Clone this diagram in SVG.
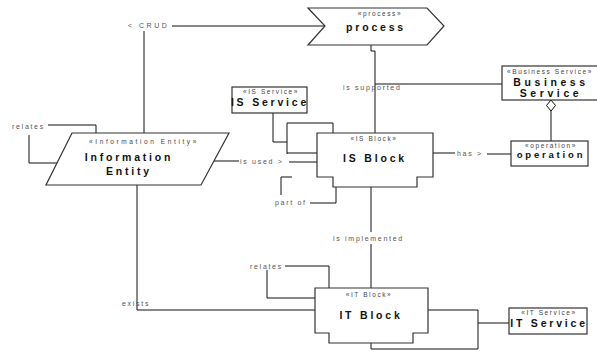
<svg xmlns="http://www.w3.org/2000/svg" width="597" height="354" viewBox="0 0 597 354">
<style>
.shape{fill:#fff;stroke:#333;stroke-width:1.2}
.ln{fill:none;stroke:#111;stroke-width:1}
.lbl{font-family:"Liberation Sans",Arial,sans-serif;font-size:7px;letter-spacing:1.7px;fill:#555}
.st{font-family:"Liberation Sans",Arial,sans-serif;font-size:6.5px;letter-spacing:1.6px;fill:#444;text-anchor:middle}
.nm{font-family:"Liberation Sans",Arial,sans-serif;font-size:10.5px;font-weight:bold;letter-spacing:2.8px;fill:#111;text-anchor:middle}
</style>
<rect width="597" height="354" fill="#fff"/>
<g id="connectors">
<path class="ln" d="M172 26 H325"/>
<path class="ln" d="M144 31 V133"/>
<path class="ln" d="M48 125 H96 V133"/>
<path class="ln" d="M29 135 V163 H57"/>
<path class="ln" d="M214 161 H239"/>
<path class="ln" d="M289 162 H317"/>
<path class="ln" d="M371 45 V51 H375 V133"/>
<path class="ln" d="M375 84 H502" stroke="#555"/>
<path class="ln" d="M273 113 V142 H287"/>
<path class="ln" d="M287 154 V123 H333 V133"/>
<path class="ln" d="M287 153 H317"/>
<path class="ln" d="M310 203 H336 V187"/>
<path class="ln" d="M292 177 H281 V195"/>
<path class="ln" d="M433 153 H455"/>
<path class="ln" d="M487 154 H511"/>
<path class="ln" d="M551 111 V141"/>
<path class="ln" d="M551 100 L555.5 105.5 L551 111 L546.5 105.5 Z" fill="#fff"/>
<path class="ln" d="M371 187 V232"/>
<path class="ln" d="M371 244 V288"/>
<path class="ln" d="M285 266 H329 V288"/>
<path class="ln" d="M267 270 V298 H315"/>
<path class="ln" d="M137 185 V310 H315"/>
<path class="ln" d="M428 310 H478 V349 H371 V343"/>
<path class="ln" d="M478 323 H509"/>
<text class="lbl" x="128" y="28" style="letter-spacing:2.5px">&lt; CRUD</text>
<text class="lbl" x="12" y="129">relates</text>
<text class="lbl" x="240" y="164">is used &gt;</text>
<text class="lbl" x="343" y="90">is supported</text>
<text class="lbl" x="275" y="205">part of</text>
<text class="lbl" x="457" y="156">has &gt;</text>
<text class="lbl" x="333" y="241">is implemented</text>
<text class="lbl" x="250" y="269">relates</text>
<text class="lbl" x="122" y="306">exists</text>
</g>
<g id="process">
<polygon class="shape" points="308,8 427,8 444,26 427,45 308,45 325,26"/>
<text class="st" x="380" y="16">«process»</text>
<text class="nm" x="376" y="31">process</text>
</g>
<g id="information-entity">
<polygon class="shape" points="72,133 229,133 201,185 46,185"/>
<text class="st" x="144" y="144" style="letter-spacing:2.6px">«Information Entity»</text>
<text class="nm" x="129" y="161">Information</text>
<text class="nm" x="129" y="175">Entity</text>
</g>
<g id="is-service">
<rect class="shape" x="232" y="87" width="75" height="26"/>
<text class="st" x="271" y="94">«IS Service»</text>
<text class="nm" x="270" y="106">IS Service</text>
</g>
<g id="is-block">
<path class="shape" d="M317 133 H433 V177 H417 V187 H333 V177 H317 Z"/>
<text class="st" x="374" y="141">«IS Block»</text>
<text class="nm" x="375" y="162">IS Block</text>
</g>
<g id="business-service">
<rect class="shape" x="502" y="66" width="96" height="34"/>
<text class="st" x="550" y="74">«Business Service»</text>
<text class="nm" x="551" y="86" style="letter-spacing:3.6px">Business</text>
<text class="nm" x="551" y="97" style="letter-spacing:3.6px">Service</text>
</g>
<g id="operation">
<rect class="shape" x="511" y="141" width="77" height="25"/>
<text class="st" x="551" y="148">«operation»</text>
<text class="nm" x="551" y="158" style="font-size:9.5px">operation</text>
</g>
<g id="it-block">
<path class="shape" d="M315 288 H428 V333 H413 V343 H329 V333 H315 Z"/>
<text class="st" x="369" y="297">«IT Block»</text>
<text class="nm" x="371" y="319">IT Block</text>
</g>
<g id="it-service">
<rect class="shape" x="509" y="308" width="78" height="26"/>
<text class="st" x="549" y="315">«IT Service»</text>
<text class="nm" x="549" y="327">IT Service</text>
</g>
</svg>
